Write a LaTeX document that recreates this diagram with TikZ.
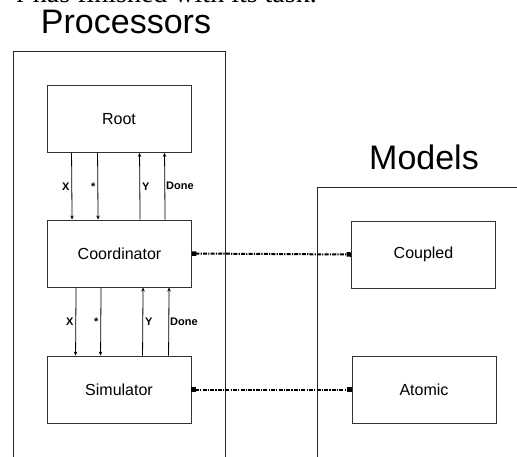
\documentclass[tikz,border=0pt]{standalone}
\usepackage{fontspec}
\setmainfont{Liberation Sans}
\newfontfamily\serifpart{Liberation Serif}
\usetikzlibrary{arrows.meta}

\begin{document}
\begin{tikzpicture}[x=1pt, y=-1pt, font=\fontsize{16}{18}\selectfont]
        \tikzset{
            box/.style={draw=black!80, line width=0.9pt, minimum width=144pt,
                minimum height=67pt, inner sep=0pt},
            frame/.style={draw=black!85, line width=0.9pt},
            msg/.style={-{Stealth[length=4pt, width=3.5pt]}, line width=0.8pt},
            link/.style={{Square[length=4.5pt, width=4.5pt]}-{Square[length=4.5pt, width=4.5pt]},
                line width=2pt, dash pattern=on 4pt off 1.2pt on 1.2pt off 1.2pt},
            lbl/.style={font=\fontsize{11}{13}\selectfont\bfseries, inner sep=2pt},
            title/.style={font=\fontsize{34}{38}\selectfont, anchor=base}
        }
        \useasboundingbox (0,0) rectangle (517,456);

        % running text above the figure
        \node[anchor=base east, inner sep=0pt, font=\serifpart\fontsize{28}{30}\selectfont]
            (prose) at (317,2.5) {r has finished with its task.};

        % the two groups
        \draw[frame] (13,470) -- (13,51) -- (225,51) -- (225,470);
        \draw[frame] (317,470) -- (317,187) -- (530,187);
        \node[title] (proclbl) at (126,33) {Processors};
        \node[title] (modlbl) at (424,169) {Models};

        \node[box] (root) at (119,119) {Root};
        \node[box] (coord) at (119.5,253.5) {Coordinator};
        \node[box] (sim) at (119,389.5) {Simulator};
        \node[box] (coupled) at (423.5,254.5) {Coupled};
        \node[box] (atomic) at (424,389.5) {Atomic};

        % root <-> coordinator
        \draw[msg] ([xshift=25pt]root.south west) -- node[lbl, left] {X} ([xshift=25pt]coord.north west);
        \draw[msg] ([xshift=51pt]root.south west) -- node[lbl, left] {*} ([xshift=51pt]coord.north west);
        \draw[msg] ([xshift=93pt]coord.north west) -- node[lbl, right] {Y} ([xshift=93pt]root.south west);
        \draw[msg] ([xshift=118pt]coord.north west) -- node[lbl, right, inner sep=1pt] {Done} ([xshift=118pt]root.south west);

        % coordinator <-> simulator
        \draw[msg] ([xshift=29pt]coord.south west) -- node[lbl, left] {X} ([xshift=29pt]sim.north west);
        \draw[msg] ([xshift=54pt]coord.south west) -- node[lbl, left] {*} ([xshift=54pt]sim.north west);
        \draw[msg] ([xshift=96pt]sim.north west) -- node[lbl, right] {Y} ([xshift=96pt]coord.south west);
        \draw[msg] ([xshift=122pt]sim.north west) -- node[lbl, right, inner sep=1pt] {Done} ([xshift=122pt]coord.south west);

        % processors to models
        \draw[link] (coord.east) -- (coupled.west);
        \draw[link] (sim.east) -- (atomic.west);
    \end{tikzpicture}
\end{document}
